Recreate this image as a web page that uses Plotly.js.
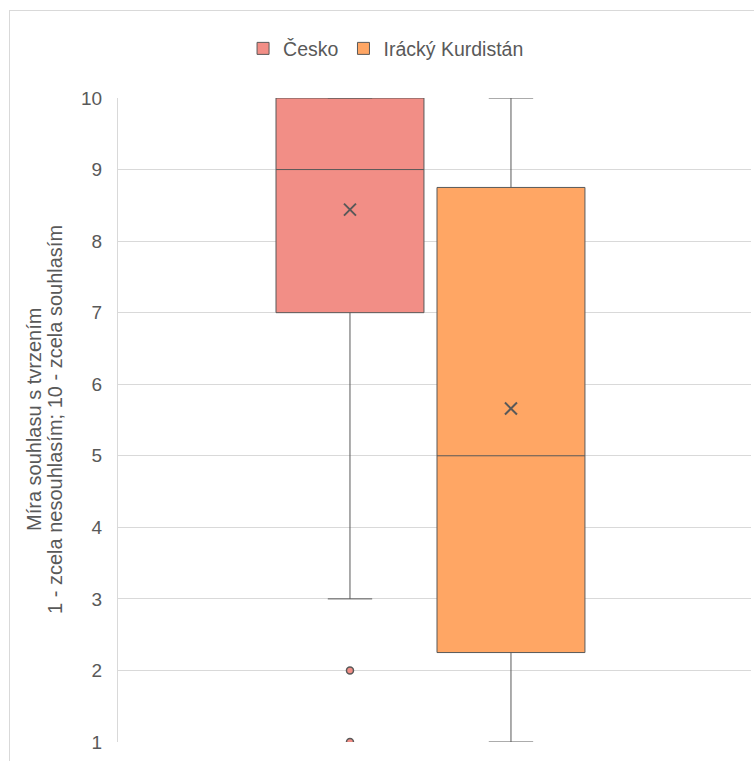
<!DOCTYPE html>
<html>
<head>
<meta charset="utf-8">
<script src="https://cdn.plot.ly/plotly-3.0.1.min.js"></script>
<style>
html,body{margin:0;padding:0;background:#fff;overflow:hidden;}
#chart{position:absolute;left:0;top:0;width:754px;height:761px;}
#frame{position:absolute;left:9px;top:10px;width:800px;height:800px;border:1px solid #d9d9d9;pointer-events:none;}
</style>
</head>
<body>
<div id="chart"></div>
<div id="frame"></div>
<script>
const groups = ["Česko", "Irácký Kurdistán"];
const colors = ["#F28E86", "#FFA664"];
const q1 = [7, 2.25];
const medians = [9, 5];
const q3 = [10, 8.75];
const lowerFence = [3, 1];
const upperFence = [10, 10];
const means = [8.44, 5.66];
const outliersCesko = [2, 1];
const yTicks = [1, 2, 3, 4, 5, 6, 7, 8, 9, 10];
const yTitleLines = ["Míra souhlasu s tvrzením", "1 - zcela nesouhlasím; 10 - zcela souhlasím"];

const font = "Liberation Sans, Arial, sans-serif";
const gray = "#595959";

const traces = [];
groups.forEach((g, i) => {
  traces.push({
    type: "box",
    name: g,
    x: [g],
    q1: [q1[i]],
    median: [medians[i]],
    q3: [q3[i]],
    lowerfence: [lowerFence[i]],
    upperfence: [upperFence[i]],
    width: 0.919,
    fillcolor: colors[i],
    line: {color: gray, width: 1},
    whiskerwidth: 0.3,
    boxpoints: false,
    hoverinfo: "skip"
  });
});
// means
traces.push({
  type: "scatter", mode: "markers", x: groups, y: means, showlegend: false,
  marker: {symbol: "x-thin", size: 12, line: {color: gray, width: 2}},
  hoverinfo: "skip"
});
// outliers
traces.push({
  type: "scatter", mode: "markers", x: outliersCesko.map(() => groups[0]), y: outliersCesko, showlegend: false,
  marker: {symbol: "circle", size: 7, color: colors[0], line: {color: gray, width: 1.5}},
  hoverinfo: "skip"
});

const layout = {
  width: 754, height: 761,
  margin: {l: 118, r: 3, t: 98, b: 19, pad: 0},
  paper_bgcolor: "#fff", plot_bgcolor: "#fff",
  font: {family: font, color: gray, size: 19},
  boxmode: "overlay",
  showlegend: true,
  legend: {
    orientation: "h", xref: "container", yref: "container",
    x: 0.512, xanchor: "center", y: 0.936, yanchor: "middle",
    font: {family: font, size: 19.5, color: gray},
    itemwidth: 30, tracegroupgap: 0
  },
  xaxis: {
    type: "category", categoryorder: "array", categoryarray: groups,
    range: [-1.441, 2.491], showticklabels: false, showgrid: false,
    zeroline: false, showline: false, ticks: ""
  },
  yaxis: {
    range: [1, 10], tickvals: yTicks, ticktext: yTicks.map(String),
    showgrid: true, gridcolor: "#d9d9d9", gridwidth: 1,
    zeroline: false, showline: true, linecolor: "#d9d9d9", linewidth: 1,
    ticks: "outside", ticklen: 11, tickcolor: "rgba(0,0,0,0)",
    tickfont: {family: font, size: 19, color: gray}
  },
  annotations: yTitleLines.map((t, i) => ({
    text: t, textangle: -90, showarrow: false,
    xref: "paper", yref: "paper",
    x: (i === 0 ? (34 - 118) : (55 - 118)) / 633,
    y: (742 - 420) / 644,
    xanchor: "center", yanchor: "middle",
    font: {family: font, size: 20, color: gray}
  }))
};

Plotly.newPlot("chart", traces, layout, {staticPlot: true, displayModeBar: false});
</script>
</body>
</html>
